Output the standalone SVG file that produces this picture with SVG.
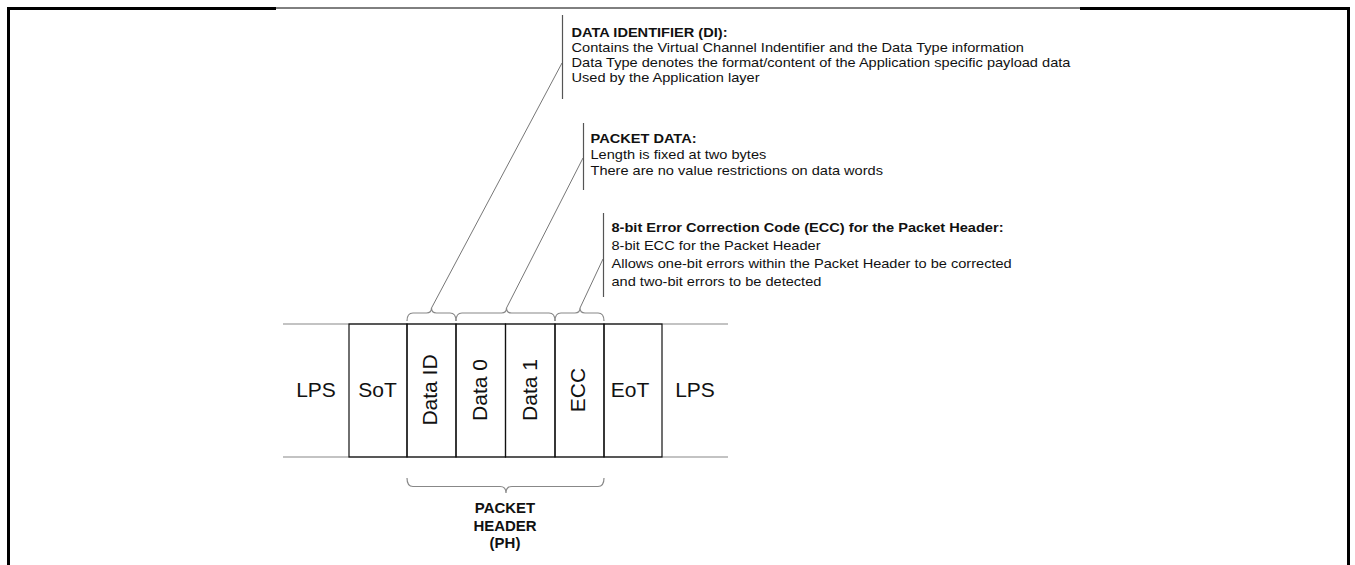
<svg xmlns="http://www.w3.org/2000/svg" width="1355" height="565" viewBox="0 0 1355 565">
<style>
text{font-family:"Liberation Sans",Arial,sans-serif;fill:#111}
.lbl{font-size:21px}
.note{font-size:13.5px}
.b{font-weight:bold}
.ph{font-size:14px;font-weight:bold}
.box{fill:none;stroke:#111;stroke-width:1.2}
.rail{stroke:#888;stroke-width:1.2}
.brace{fill:none;stroke:#888;stroke-width:1.2}
.lead{stroke:#777;stroke-width:1}
.bar{stroke:#555;stroke-width:1.2}
</style>
<rect width="1355" height="565" fill="#fff"/>
<g id="border" stroke="#000" fill="none">
<line x1="7" y1="8.5" x2="276" y2="8.5" stroke-width="3"/>
<line x1="276" y1="8" x2="1080" y2="8" stroke-width="1"/>
<line x1="1080" y1="8.5" x2="1350" y2="8.5" stroke-width="3"/>
<line x1="8.5" y1="7" x2="8.5" y2="565" stroke-width="3"/>
<line x1="1348.5" y1="7" x2="1348.5" y2="565" stroke-width="3"/>
</g>
<g id="rails">
<line class="rail" x1="283" y1="324" x2="728" y2="324"/>
<line class="rail" x1="283" y1="457" x2="728" y2="457"/>
</g>
<g id="lps-left"><text class="lbl" x="316" y="397" text-anchor="middle">LPS</text></g>
<g id="sot"><rect class="box" x="349" y="324" width="58" height="133"/><text class="lbl" x="377.5" y="397" text-anchor="middle">SoT</text></g>
<g id="data-id"><rect class="box" x="407" y="324" width="49" height="133"/><text class="lbl" transform="translate(436.5,390) rotate(-90)" text-anchor="middle">Data ID</text></g>
<g id="data0"><rect class="box" x="456" y="324" width="49.5" height="133"/><text class="lbl" transform="translate(486.5,390) rotate(-90)" text-anchor="middle">Data 0</text></g>
<g id="data1"><rect class="box" x="505.5" y="324" width="49.5" height="133"/><text class="lbl" transform="translate(536.5,390) rotate(-90)" text-anchor="middle">Data 1</text></g>
<g id="ecc"><rect class="box" x="555" y="324" width="49" height="133"/><text class="lbl" transform="translate(585,390) rotate(-90)" text-anchor="middle">ECC</text></g>
<g id="eot"><rect class="box" x="604" y="324" width="58" height="133"/><text class="lbl" x="630" y="397" text-anchor="middle">EoT</text></g>
<g id="lps-right"><text class="lbl" x="695" y="397" text-anchor="middle">LPS</text></g>
<g id="connectors">
<path class="brace" d="M407,321 Q407,313 413,313 L426.5,313 Q431.5,313 431.5,308 Q431.5,313 436.5,313 L450,313 Q456,313 456,321"/>
<path class="brace" d="M456,321 Q456,313 462,313 L501.5,313 Q506.5,313 506.5,308 Q506.5,313 511.5,313 L549,313 Q555,313 555,321"/>
<path class="brace" d="M555,321 Q555,313 561,313 L575,313 Q580,313 580,308 Q580,313 585,313 L598,313 Q604,313 604,321"/>
<path class="brace" d="M407,478 Q407,486.5 413,486.5 L500,486.5 Q506,486.5 506,493 Q506,486.5 512,486.5 L598,486.5 Q604,486.5 604,478"/>
<line class="lead" x1="431.5" y1="308" x2="562" y2="63"/>
<line class="lead" x1="506.5" y1="308" x2="583" y2="158"/>
<line class="lead" x1="580" y1="308" x2="603" y2="259"/>
</g>
<g id="note-di">
<line class="bar" x1="562.5" y1="15" x2="562.5" y2="99"/>
<g transform="translate(571.5 0) scale(1.08 1) translate(-571.5 0)">
<text class="note b" x="571.5" y="37">DATA IDENTIFIER (DI):</text>
<text class="note" x="571.5" y="52">Contains the Virtual Channel Indentifier and the Data Type information</text>
<text class="note" x="571.5" y="67">Data Type denotes the format/content of the Application specific payload data</text>
<text class="note" x="571.5" y="82">Used by the Application layer</text>
</g>
</g>
<g id="note-pd">
<line class="bar" x1="583.5" y1="123" x2="583.5" y2="190"/>
<g transform="translate(590.5 0) scale(1.08 1) translate(-590.5 0)">
<text class="note b" x="590.5" y="143">PACKET DATA:</text>
<text class="note" x="590.5" y="159">Length is fixed at two bytes</text>
<text class="note" x="590.5" y="175">There are no value restrictions on data words</text>
</g>
</g>
<g id="note-ecc">
<line class="bar" x1="603.5" y1="213" x2="603.5" y2="297"/>
<g transform="translate(611.5 0) scale(1.08 1) translate(-611.5 0)">
<text class="note b" x="611.5" y="232">8-bit Error Correction Code (ECC) for the Packet Header:</text>
<text class="note" x="611.5" y="250">8-bit ECC for the Packet Header</text>
<text class="note" x="611.5" y="268">Allows one-bit errors within the Packet Header to be corrected</text>
<text class="note" x="611.5" y="286">and two-bit errors to be detected</text>
</g>
</g>
<g id="ph-label" transform="translate(505 0) scale(1.07 1) translate(-505 0)">
<text class="ph" x="505" y="513" text-anchor="middle">PACKET</text>
<text class="ph" x="505" y="531" text-anchor="middle">HEADER</text>
<text class="ph" x="505" y="548" text-anchor="middle">(PH)</text>
</g>
</svg>
